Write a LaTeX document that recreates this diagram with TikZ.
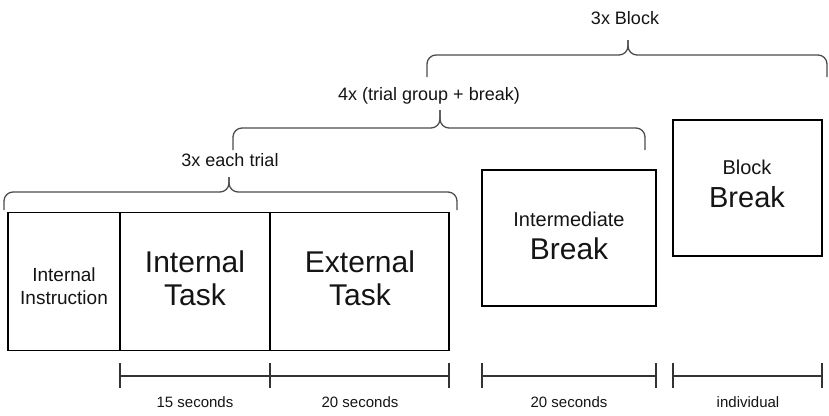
\documentclass[tikz,border=0pt]{standalone}
\usepackage{fontspec}
\setmainfont{Liberation Sans}
\begin{document}
\begin{tikzpicture}[x=1pt,y=-1pt,
  cell/.style={draw=black, line width=1.4pt, inner sep=0pt, minimum height=138pt},
  breakbox/.style={draw=black, line width=1.4pt, inner sep=0pt, minimum height=136pt},
  txt/.style={inner sep=0pt, anchor=base, text=black!92},
  smalltxt/.style={txt, font=\fontsize{19}{22}\selectfont},
  bigtxt/.style={txt, font=\fontsize{30}{33}\selectfont},
  bracetxt/.style={txt, font=\fontsize{18}{21}\selectfont},
  scaletxt/.style={txt, font=\fontsize{15}{18}\selectfont},
  bracestyle/.style={draw=black!70, line width=1.3pt, rounded corners=9pt},
  scalebar/.style={draw=black!80, line width=1.2pt}
]
\useasboundingbox (0,0) rectangle (829,415);

% main trial boxes
\node[cell, minimum width=112pt] (instr) at (64,281.5) {};
\node[cell, minimum width=150pt] (intask) at (195,281.5) {};
\node[cell, minimum width=179pt] (extask) at (359.5,281.5) {};
\node[breakbox, minimum width=174pt] (ibreak) at (569,238) {};
\node[breakbox, minimum width=149pt] (bbreak) at (747.5,188) {};

% box texts
\node[smalltxt] (instrA) at (64,281) {Internal};
\node[smalltxt] (instrB) at (64,304) {Instruction};
\node[bigtxt] (intaskA) at (195,272) {Internal};
\node[bigtxt] (intaskB) at (195,305) {Task};
\node[bigtxt] (extaskA) at (360,272) {External};
\node[bigtxt] (extaskB) at (360,305) {Task};
\node[txt, font=\fontsize{20}{23}\selectfont] (ibreakA) at (569,226) {Intermediate};
\node[bigtxt] (ibreakB) at (569,259) {Break};
\node[txt, font=\fontsize{20}{23}\selectfont] (bbreakA) at (747,174) {Block};
\node[txt, font=\fontsize{29}{32}\selectfont] (bbreakB) at (747,207) {Break};

% braces
\coordinate (b1tip) at (229,177);
\draw[bracestyle] (4,210) -- (4,192) -- (229,192) -- (b1tip);
\draw[bracestyle] (457,210) -- (457,192) -- (229,192) -- (b1tip);
\node[bracetxt] (lab1) at (230,166) {3x each trial};

\coordinate (b2tip) at (440,110);
\draw[bracestyle] (233,150) -- (233,128) -- (440,128) -- (b2tip);
\draw[bracestyle] (645,150) -- (645,128) -- (440,128) -- (b2tip);
\node[bracetxt] (lab2) at (429,100) {4x (trial group + break)};

\coordinate (b3tip) at (628,40);
\draw[bracestyle] (427,77) -- (427,55) -- (628,55) -- (b3tip);
\draw[bracestyle] (827,77) -- (827,55) -- (628,55) -- (b3tip);
\node[bracetxt] (lab3) at (625,24) {3x Block};

% time scale bars
\draw[scalebar] (120,363) -- (120,388);
\draw[scalebar] (270,363) -- (270,388);
\draw[scalebar] (449,363) -- (449,388);
\draw[scalebar] (120,376) -- (449,376);
\draw[scalebar] (482,363) -- (482,388);
\draw[scalebar] (656,363) -- (656,388);
\draw[scalebar] (482,376) -- (656,376);
\draw[scalebar] (673,363) -- (673,388);
\draw[scalebar] (822,363) -- (822,388);
\draw[scalebar] (673,376) -- (822,376);

\node[scaletxt] (s1) at (195,407) {15 seconds};
\node[scaletxt] (s2) at (360,407) {20 seconds};
\node[scaletxt] (s3) at (569,407) {20 seconds};
\node[scaletxt] (s4) at (748,407) {individual};
\end{tikzpicture}
\end{document}
